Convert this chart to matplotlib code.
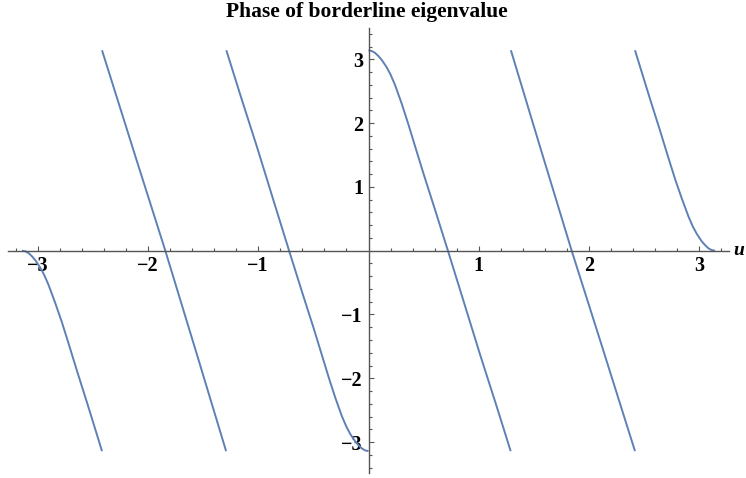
import matplotlib.pyplot as plt
from matplotlib.ticker import FixedLocator

# phase branches (u, phase), one list per continuous piece
b1_u = [-3.1416, -3.11, -3.08, -3.05, -3.02, -2.976, -2.94, -2.90, -2.84, -2.78, -2.72, -2.64,
        -2.552, -2.416]
b1_y = [0.0, -0.01, -0.04, -0.09, -0.15, -0.265, -0.38, -0.54, -0.82, -1.12, -1.45, -1.90,
        -2.38, -3.1416]

b2_u = [-2.416, -2.099, -1.842, -1.555, -1.291]
b2_y = [3.1416, 1.40, 0.0, -1.63, -3.1416]

b3_u = [-1.289, -1.16, -1.01, -0.86, -0.72, -0.60, -0.50, -0.42, -0.36, -0.30, -0.24, -0.20,
        -0.165, -0.12, -0.09, -0.06, -0.03, 0.0]
b3_y = [3.1416, 2.43, 1.62, 0.78, 0.0, -0.66, -1.20, -1.65, -1.99, -2.31, -2.60, -2.76,
        -2.875, -2.99, -3.05, -3.10, -3.13, -3.1416]

b4_u = [0.0, 0.03, 0.06, 0.09, 0.12, 0.165, 0.20, 0.24, 0.30, 0.36, 0.42, 0.50, 0.60, 0.72,
        0.86, 1.01, 1.16, 1.289]
b4_y = [3.1416, 3.13, 3.10, 3.05, 2.99, 2.875, 2.76, 2.60, 2.31, 1.99, 1.65, 1.20, 0.66, 0.0,
        -0.78, -1.62, -2.43, -3.1416]

b5_u = [1.291, 1.555, 1.842, 2.099, 2.416]
b5_y = [3.1416, 1.63, 0.0, -1.40, -3.1416]

b6_u = [2.416, 2.552, 2.64, 2.72, 2.78, 2.84, 2.90, 2.94, 2.976, 3.02, 3.05, 3.08, 3.11, 3.1416]
b6_y = [3.1416, 2.38, 1.90, 1.45, 1.12, 0.82, 0.54, 0.38, 0.265, 0.15, 0.09, 0.04, 0.01, 0.0]

branches = [(b1_u, b1_y), (b2_u, b2_y), (b3_u, b3_y), (b4_u, b4_y), (b5_u, b5_y), (b6_u, b6_y)]

x_ticks = [-3, -2, -1, 1, 2, 3]
y_ticks = [-3, -2, -1, 1, 2, 3]

serif = 'Liberation Serif'
line_col = '#5e81b5'
axis_col = '#555555'

fig = plt.figure(figsize=(7.46, 4.78), dpi=100)
ax = fig.add_axes([0, 0, 1, 1])
ax.patch.set_alpha(0)

for u, y in branches:
    ax.plot(u, y, color=line_col, lw=1.4, solid_capstyle='butt', solid_joinstyle='round')

# pixel mapping: u=0 at x=368.5, 110.3 px/unit; phase=0 at y=250.7, 63.8 px/unit
ax.set_xlim(-368.5 / 110.3, (746 - 368.5) / 110.3)
ax.set_ylim(-(478 - 250.7) / 63.8, 250.7 / 63.8)

for s in ['top', 'right']:
    ax.spines[s].set_visible(False)
ax.spines['left'].set_position(('data', 0))
ax.spines['bottom'].set_position(('data', 0))
ax.spines['bottom'].set_bounds(-3.267, 3.267)
ax.spines['left'].set_bounds(-3.49, 3.49)
for s in ['left', 'bottom']:
    ax.spines[s].set_color(axis_col)
    ax.spines[s].set_linewidth(1.0)

ax.xaxis.set_major_locator(FixedLocator(x_ticks))
ax.yaxis.set_major_locator(FixedLocator(y_ticks))
ax.set_xticks([t / 5 for t in range(-16, 17) if t % 5 != 0], minor=True)
ax.set_yticks([t / 5 for t in range(-17, 18) if t % 5 != 0], minor=True)
ax.tick_params(which='both', direction='in', color=axis_col, width=0.8)
ax.tick_params(which='major', length=3.5)
ax.tick_params(which='minor', length=2)
ax.tick_params(axis='x', which='major', pad=4)
ax.tick_params(axis='y', which='major', pad=4)

ax.set_xticklabels([f'\u2212{-t}' if t < 0 else str(t) for t in x_ticks],
                   fontfamily=serif, fontweight='bold', fontsize=14.5)
ax.set_yticklabels([f'\u2212{-t}' if t < 0 else str(t) for t in y_ticks],
                   fontfamily=serif, fontweight='bold', fontsize=14.5)

ax.text(3.31, 0.0, 'u', fontfamily=serif, fontweight='bold', fontstyle='italic',
        fontsize=14, ha='left', va='center', clip_on=False)

fig.text(367 / 746, 1 - 12 / 478, 'Phase of borderline eigenvalue', fontfamily=serif,
         fontweight='bold', fontsize=15.5, ha='center', va='center')

fig.savefig('out.png', dpi=100)
